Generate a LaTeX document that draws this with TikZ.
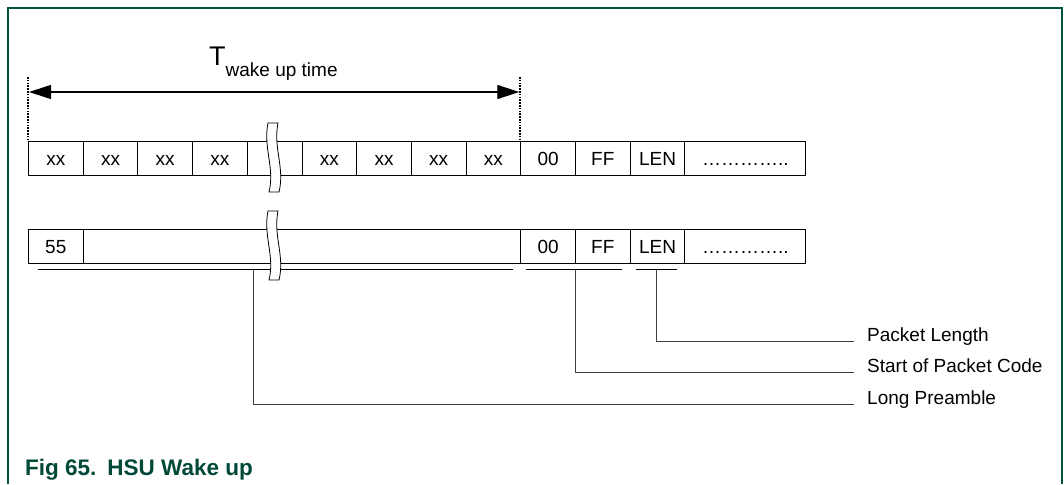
\documentclass[tikz,border=0pt]{standalone}
\usepackage{fontspec}
\setmainfont{Liberation Sans}
\usetikzlibrary{arrows.meta}
\definecolor{framegreen}{RGB}{0,84,64}
\definecolor{capgreen}{RGB}{0,72,56}
\newcommand{\cellfont}{\fontsize{19}{21}\selectfont}
\newcommand{\brkmark}[1]{\filldraw[fill=white, line width=0.8pt] (268,#1) .. controls (263,#1+25) and (275,#1+45) .. (269,#1+69) -- (279,#1+69) .. controls (285,#1+45) and (273,#1+25) .. (278,#1) -- cycle;}

\begin{document}
\begin{tikzpicture}[x=1pt,y=-1pt,
  cell/.style={draw, line width=0.9pt, anchor=north west, inner sep=0pt,
    minimum width=54.7pt, minimum height=34pt, text height=13.5pt, text depth=0pt, font=\cellfont},
  conn/.style={black!75, line width=0.9pt},
  lbl/.style={anchor=base west, inner sep=0pt, font=\cellfont},
  dotline/.style={line width=2pt, dash pattern=on 1.6pt off 1.2pt}]
\useasboundingbox (0,0) rectangle (1064,484);
\draw[framegreen, line width=1.2pt] (8,484) -- (8,8) -- (1062,8) -- (1062,484);
% top row
\node[cell] (a1) at (28,141) {xx};
\node[cell] (a2) at (82.7,141) {xx};
\node[cell] (a3) at (137.4,141) {xx};
\node[cell] (a4) at (192.1,141) {xx};
\node[cell] (a5) at (246.8,141) {};
\node[cell] (a6) at (301.5,141) {xx};
\node[cell] (a7) at (356.2,141) {xx};
\node[cell] (a8) at (410.9,141) {xx};
\node[cell] (a9) at (465.6,141) {xx};
\node[cell] (c00) at (520.3,141) {00};
\node[cell] (cff) at (575,141) {FF};
\node[cell] (clen) at (629.7,141) {LEN};
\node[cell, minimum width=121pt] (cdots) at (684.4,141) {…………..};
% second row
\node[cell, minimum width=492.3pt] (blong) at (28,229) {};
\node[cell] (b55) at (28,229) {55};
\node[cell] (d00) at (520.3,229) {00};
\node[cell] (dff) at (575,229) {FF};
\node[cell] (dlen) at (629.7,229) {LEN};
\node[cell, minimum width=121pt] (ddots) at (684.4,229) {…………..};
% wake up time
\coordinate (tl) at (28,77);
\coordinate (tr) at (520.3,77);
\draw[dotline] (tl) -- (a1.north west);
\draw[dotline] (tr) -- (c00.north west);
\draw[line width=1.1pt, {Triangle[length=22pt,width=14pt]}-{Triangle[length=22pt,width=14pt]}] (29,92) -- (519.3,92);
\node[anchor=base west, inner sep=0pt] (twake) at (209,66) {{\fontsize{27}{30}\selectfont T}\raisebox{-10.5pt}{\cellfont wake up time}};
% underlines
\draw[line width=1pt] (38,269.5) -- (513,269.5);
\draw[line width=1pt] (526,269.5) -- (622,269.5);
\draw[line width=1pt] (636,269.5) -- (677,269.5);
\brkmark{123}
\brkmark{211}
% labels
\node[lbl] (lenlbl) at (867,341.7) {Packet Length};
\node[lbl] (soplbl) at (867,372.5) {Start of Packet Code};
\node[lbl] (prelbl) at (867,404) {Long Preamble};
\coordinate (lenu) at (656,269.5);
\coordinate (sopu) at (575,269.5);
\coordinate (preu) at (253.3,269.5);
\draw[conn] (lenu) |- ([xshift=-13pt]lenlbl.base west);
\draw[conn] (sopu) |- ([xshift=-13pt]soplbl.base west);
\draw[conn] (preu) |- ([xshift=-13pt]prelbl.base west);
% caption
\node[anchor=base west, inner sep=0pt, text=capgreen, font=\fontsize{22.5}{25}\selectfont\bfseries] (cap) at (25,475) {Fig 65.\hspace{11pt}HSU Wake up};
\end{tikzpicture}
\end{document}
